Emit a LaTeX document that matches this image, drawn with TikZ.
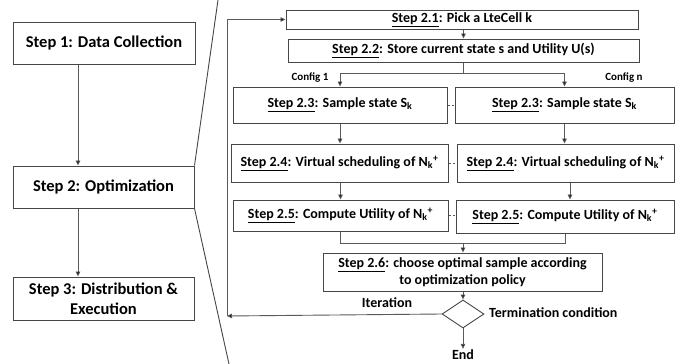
\documentclass[tikz,border=0pt]{standalone}
\usepackage{fontspec}
\setmainfont{Carlito}
\usetikzlibrary{arrows.meta,shapes.geometric}
\definecolor{linegray}{RGB}{70,70,70}
\definecolor{conngray}{RGB}{90,90,90}
\begin{document}
\begin{tikzpicture}[x=1pt,y=-1pt,
  bigbox/.style={draw=linegray, line width=1pt, inner sep=1pt, font=\bfseries\fontsize{16.5}{20}\selectfont, align=center},
  box/.style={draw=linegray, line width=1pt, inner sep=1pt, font=\bfseries\fontsize{14}{17}\selectfont, align=center},
  lbl/.style={inner sep=1pt, font=\bfseries\fontsize{14}{17}\selectfont},
  small/.style={inner sep=1pt, font=\bfseries\fontsize{11}{12}\selectfont},
  conn/.style={draw=conngray, line width=0.9pt},
  arr/.style={conn, -{Triangle[length=5pt,width=4.5pt,fill=black]}},
  dsh/.style={draw=conngray, line width=0.8pt, dash pattern=on 2pt off 2pt}]
\useasboundingbox (0,0) rectangle (691,364);
\fill[white] (0,0) rectangle (691,364);
% left column
\node[bigbox, minimum width=182, minimum height=42] (s1) at (104,43) {Step 1: Data Collection};
\node[bigbox, minimum width=181, minimum height=42] (s2) at (103.5,187) {Step 2: Optimization};
\node[bigbox, minimum width=181, minimum height=43] (s3) at (103.5,298.5) {Step 3: Distribution \&\\Execution};
\coordinate (ax) at (78,0);
\draw[arr] (s1.south -| ax) -- (s2.north -| ax);
\draw[arr] (s2.south -| ax) -- (s3.north -| ax);
% zoom lines
\coordinate (zt) at (218,0);
\coordinate (zb) at (229,364);
\draw[linegray, line width=0.9pt] (s2.north east) -- (zt);
\draw[linegray, line width=0.9pt] (s2.south east) -- (zb);
% right part
\node[box, minimum width=352, minimum height=19] (b21) at (462,19.5) {\underline{Step 2.1}: Pick a LteCell k};
\node[box, minimum width=351, minimum height=23] (b22) at (463.5,50.5) {\underline{Step 2.2}: Store current state s and Utility U(s)};
\node[box, minimum width=214, minimum height=36] (b23L) at (340,105) {\underline{Step 2.3}: Sample state S\textsubscript{k}};
\node[box, minimum width=219, minimum height=36] (b23R) at (564.5,105) {\underline{Step 2.3}: Sample state S\textsubscript{k}};
\node[box, minimum width=217, minimum height=38] (b24L) at (339.5,163) {\underline{Step 2.4}: Virtual scheduling of N\textsubscript{k}\textsuperscript{+}};
\node[box, minimum width=217, minimum height=38] (b24R) at (565.5,163) {\underline{Step 2.4}: Virtual scheduling of N\textsubscript{k}\textsuperscript{+}};
\node[box, minimum width=215, minimum height=31] (b25L) at (340.5,215.5) {\underline{Step 2.5}: Compute Utility of N\textsubscript{k}\textsuperscript{+}};
\node[box, minimum width=218, minimum height=33] (b25R) at (565,216.5) {\underline{Step 2.5}: Compute Utility of N\textsubscript{k}\textsuperscript{+}};
\node[box, minimum width=279, minimum height=38] (b26) at (462.5,272) {\underline{Step 2.6}: choose optimal sample according\\to optimization policy};
\node[draw=linegray, line width=0.9pt, diamond, minimum width=42, minimum height=28, inner sep=0pt] (dec) at (463,314) {};
\node[lbl] (endn) at (463,355) {End};
\node[lbl] (iter) at (387,303) {Iteration};
\node[lbl, anchor=west] (term) at (488,313) {Termination condition};
\node[small] (c1) at (310,78) {Config 1};
\node[small] (cn) at (624,78) {Config n};
% connectors
\draw[arr] (b21.south -| b22.north) -- (b22.north);
\coordinate (j1) at (463,73);
\draw[conn] (b22.south -| j1) -- (j1);
\draw[arr] (j1) -| (b23L.north);
\draw[arr] (j1) -| (b23R.north);
\draw[arr] (b23L.south) -- (b23L.south |- b24L.north);
\draw[arr] (b23R.south) -- (b23R.south |- b24R.north);
\coordinate (x4r) at (570,0);
\draw[arr] (b24L.south -| b25L.north) -- (b25L.north);
\draw[arr] (b24R.south -| x4r) -- (b25R.north -| x4r);
\coordinate (j2) at (463,243);
\draw[conn] (b25L.south) |- (b25R.south |- j2) -- (b25R.south);
\draw[arr] (j2) -- (b26.north -| j2);
\draw[arr] (b26.south -| dec.north) -- (dec.north);
\draw[arr] (dec.south) -- (endn.north);
\coordinate (lb) at (227,316);
\draw[arr] (dec.west) -- (lb);
\draw[arr] (lb) |- (b21.west);
% dashed links
\draw[dsh] (b23L.east) -- (b23R.west);
\draw[dsh] (b24L.east) -- (b24R.west);
\draw[dsh] (b25L.east) -- (b25L.east -| b25R.west);
\end{tikzpicture}
\end{document}
